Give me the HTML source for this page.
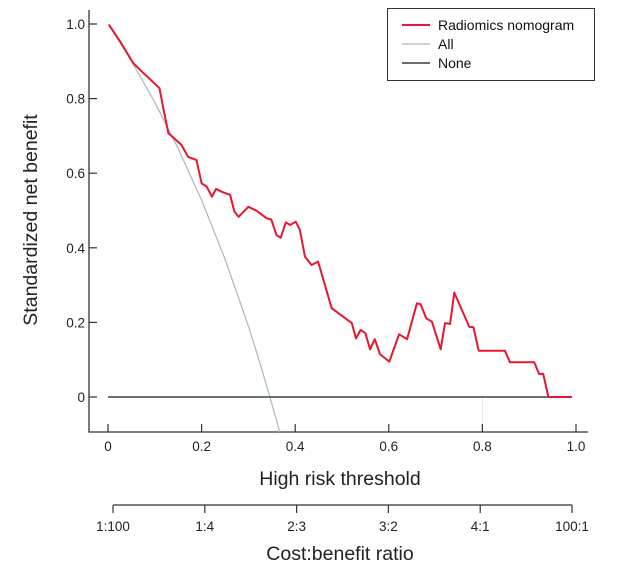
<!DOCTYPE html>
<html><head><meta charset="utf-8"><style>
body{margin:0;background:#fff}
svg{display:block;font-family:"Liberation Sans",sans-serif}
</style></head><body>
<svg id="c" width="630" height="571"></svg>
<script>
const modelX=[0.002,0.026,0.054,0.076,0.110,0.119,0.129,0.157,0.171,0.189,0.200,0.211,0.222,0.231,0.243,0.261,0.270,0.279,0.300,0.318,0.339,0.349,0.360,0.369,0.380,0.389,0.401,0.410,0.421,0.435,0.449,0.478,0.521,0.530,0.540,0.550,0.560,0.570,0.581,0.601,0.622,0.639,0.660,0.668,0.680,0.692,0.711,0.720,0.731,0.740,0.772,0.781,0.792,0.848,0.859,0.911,0.921,0.930,0.941,0.991];
const modelY=[0.998,0.953,0.895,0.868,0.828,0.769,0.707,0.676,0.644,0.635,0.573,0.564,0.537,0.558,0.550,0.542,0.497,0.483,0.510,0.499,0.479,0.476,0.434,0.427,0.468,0.461,0.470,0.448,0.376,0.354,0.363,0.238,0.198,0.157,0.180,0.171,0.128,0.155,0.115,0.095,0.168,0.155,0.251,0.249,0.211,0.202,0.128,0.198,0.196,0.280,0.188,0.187,0.124,0.124,0.093,0.093,0.062,0.062,0,0];
const allX=[0,0.05,0.1,0.15,0.2,0.25,0.3,0.325,0.346,0.367];
const allY=[1,0.901,0.79,0.666,0.528,0.37,0.19,0.09,0,-0.094];
const noneX=[0,0.991];
const noneY=[0,0];
const xTicks=[0,0.2,0.4,0.6,0.8,1.0];
const xTickLabels=["0","0.2","0.4","0.6","0.8","1.0"];
const yTicks=[0,0.2,0.4,0.6,0.8,1.0];
const yTickLabels=["0","0.2","0.4","0.6","0.8","1.0"];
const ratioLabels=["1:100","1:4","2:3","3:2","4:1","100:1"];

const svg=document.getElementById('c');
const NS="http://www.w3.org/2000/svg";
const sx=v=>108+v*468;
const sy=v=>397-v*373;
function mk(tag,attrs,text){const e=document.createElementNS(NS,tag);for(const k in attrs)e.setAttribute(k,attrs[k]);if(text!==undefined)e.textContent=text;svg.appendChild(e);return e;}

let e=mk('line',{x1:sx(0.8),y1:sy(0),x2:sx(0.8),y2:432,stroke:'#e4e8ea','stroke-width':1});



e=mk('path',{d:'M89,10 V432 H588',fill:'none',stroke:'#333','stroke-width':1.3});


xTicks.forEach((t,i)=>{
  let l=mk('line',{x1:sx(t),y1:424,x2:sx(t),y2:432,stroke:'#333','stroke-width':1.2});
  
  
  let tx=mk('text',{x:sx(t),y:451,'text-anchor':'middle','font-size':13.5,fill:'#222'},xTickLabels[i]);
  
  
});
yTicks.forEach((t,i)=>{
  let l=mk('line',{x1:89,y1:sy(t),x2:97,y2:sy(t),stroke:'#333','stroke-width':1.2});
  
  
  let tx=mk('text',{x:85,y:sy(t)+5,'text-anchor':'end','font-size':13.5,fill:'#222'},yTickLabels[i]);
  
  
});
e=mk('text',{x:340,y:485,'text-anchor':'middle','font-size':19.5,fill:'#222'},'High risk threshold');


e=mk('text',{x:0,y:0,'text-anchor':'middle','font-size':19.5,fill:'#222',transform:'translate(37,220) rotate(-90)'},'Standardized net benefit');



e=mk('line',{x1:113,y1:505,x2:572,y2:505,stroke:'#333','stroke-width':1.3});


ratioLabels.forEach((r,i)=>{
  const px=113+i*(572-113)/5;
  let l=mk('line',{x1:px,y1:505,x2:px,y2:513,stroke:'#333','stroke-width':1.2});
  
  
  let tx=mk('text',{x:px,y:531,'text-anchor':'middle','font-size':13.5,fill:'#222'},r);
  
  
});
e=mk('text',{x:340,y:560,'text-anchor':'middle','font-size':19.5,fill:'#222'},'Cost:benefit ratio');



function poly(xs,ys,color,w,name){
  const pts=xs.map((x,i)=>sx(x).toFixed(1)+','+sy(ys[i]).toFixed(1)).join(' ');
  const p=mk('polyline',{points:pts,fill:'none',stroke:color,'stroke-width':w,'stroke-linejoin':'round'});
  
  
}
poly(allX,allY,'#aab8bc',1.2,'all-line');
poly(noneX,noneY,'#3a4448',1.5,'none-line');
poly(modelX,modelY,'#e8162e',2,'radiomics-nomogram-line');

e=mk('rect',{x:387.5,y:8.5,width:207,height:72,fill:'#fff',stroke:'#333','stroke-width':1});


[['Radiomics nomogram','#e8162e',2,25],['All','#aab8bc',1.2,44],['None','#3a4448',1.5,63]].forEach(r=>{
  let l=mk('line',{x1:402,y1:r[3],x2:430,y2:r[3],stroke:r[1],'stroke-width':r[2]});
  
  
  let t=mk('text',{x:438,y:r[3]+5,'font-size':14,fill:'#111'},r[0]);
  
  
});
</script>
</body></html>
